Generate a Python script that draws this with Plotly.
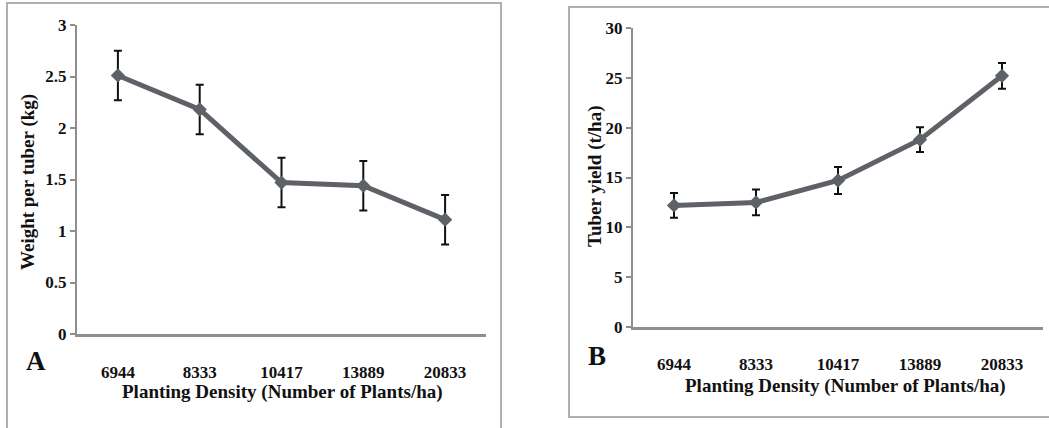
import plotly.graph_objects as go

densities = ["6944", "8333", "10417", "13889", "20833"]
weight_kg = [2.51, 2.18, 1.47, 1.44, 1.11]
weight_err = [0.24, 0.24, 0.24, 0.24, 0.24]
yield_tha = [12.2, 12.5, 14.7, 18.8, 25.2]
yield_err = [1.25, 1.3, 1.35, 1.25, 1.3]
weight_ticks = [0, 0.5, 1, 1.5, 2, 2.5, 3]
yield_ticks = [0, 5, 10, 15, 20, 25, 30]

W, H = 1049, 428
FONT = "Liberation Serif"
LINE = "#5e6266"
AX = "#8e8e8e"

def px(x):
    return x / W

def py(y):
    return 1 - y / H

fig = go.Figure()
fig.add_trace(go.Scatter(
    x=densities, y=weight_kg, xaxis="x", yaxis="y", mode="lines+markers",
    line=dict(color=LINE, width=5), marker=dict(symbol="diamond", size=11, color=LINE),
    error_y=dict(type="data", array=weight_err, color="#111111", thickness=2, width=4),
    showlegend=False))
fig.add_trace(go.Scatter(
    x=densities, y=yield_tha, xaxis="x2", yaxis="y2", mode="lines+markers",
    line=dict(color=LINE, width=5), marker=dict(symbol="diamond", size=11, color=LINE),
    error_y=dict(type="data", array=yield_err, color="#111111", thickness=2, width=4),
    showlegend=False))

tickfont = dict(family=FONT, size=17, color="#111111", weight="bold")
xcommon = dict(type="category", range=[-0.5, 4.5], showgrid=False, zeroline=False,
               showline=True, linecolor=AX, linewidth=2.5, ticks="", tickfont=tickfont,
               categoryorder="array", categoryarray=densities, automargin=False)
ycommon = dict(showgrid=False, zeroline=False, showline=True, linecolor=AX, linewidth=2,
               ticks="outside", ticklen=5, tickwidth=1.5, tickcolor=AX, tickfont=tickfont,
               automargin=False)

fig.update_layout(
    width=W, height=H, margin=dict(l=0, r=0, t=0, b=0),
    paper_bgcolor="white", plot_bgcolor="white",
    xaxis=dict(domain=[px(77), px(486)], anchor="y", ticklabelstandoff=21, **xcommon),
    yaxis=dict(domain=[py(334), py(25)], anchor="x", range=[0, 3], tickvals=weight_ticks, **ycommon),
    xaxis2=dict(domain=[px(633), px(1043)], anchor="y2", ticklabelstandoff=20, **xcommon),
    yaxis2=dict(domain=[py(327), py(28)], anchor="x2", range=[0, 30], tickvals=yield_ticks, **ycommon),
)

# panel borders
fig.add_shape(type="rect", xref="paper", yref="paper", x0=px(7), x1=px(501), y0=-0.2, y1=py(3),
              line=dict(color="#b0b0b0", width=2), fillcolor="rgba(0,0,0,0)", layer="below")
fig.add_shape(type="rect", xref="paper", yref="paper", x0=px(569), x1=1.2, y0=py(417), y1=py(7),
              line=dict(color="#b0b0b0", width=2), fillcolor="rgba(0,0,0,0)", layer="below")

title_font = dict(family=FONT, size=19, color="#111111")
ann = [
    dict(text="<b>Planting Density (Number of Plants/ha)</b>", x=px(282), y=py(392)),
    dict(text="<b>Planting Density (Number of Plants/ha)</b>", x=px(845), y=py(386)),
    dict(text="<b>Weight per tuber (kg)</b>", x=px(28), y=py(182), textangle=-90),
    dict(text="<b>Tuber yield (t/ha)</b>", x=px(595), y=py(177), textangle=-90),
    dict(text="<b>A</b>", x=px(36), y=py(361), font=dict(family=FONT, size=27, color="#111111")),
    dict(text="<b>B</b>", x=px(597), y=py(356), font=dict(family=FONT, size=27, color="#111111")),
]
for a in ann:
    a.setdefault("font", title_font)
    fig.add_annotation(xref="paper", yref="paper", showarrow=False, xanchor="center",
                       yanchor="middle", **a)

fig.write_html("out.html", config={"displayModeBar": False},
               post_script="document.body.style.margin='0px';")
